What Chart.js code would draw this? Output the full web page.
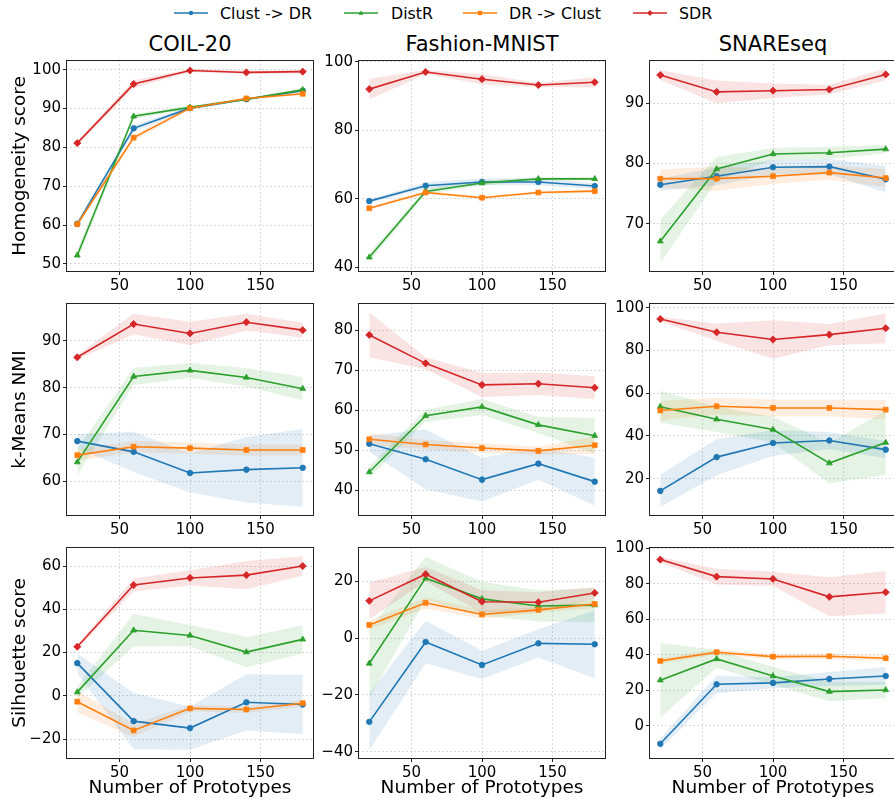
<!DOCTYPE html>
<html><head><meta charset="utf-8">
<script src="https://cdn.jsdelivr.net/npm/chart.js@4/dist/chart.umd.min.js"></script>
<style>
html,body{margin:0;padding:0;width:894px;height:799px;overflow:hidden;background:#fff;font-family:"DejaVu Sans",sans-serif;}
body{position:relative;}
canvas{position:absolute;}
.title{position:absolute;font-size:21px;transform:translate(-50%,-50%);white-space:nowrap;color:#000;line-height:1;}
.legtxt{position:absolute;font-size:15.8px;transform:translateY(-50%);white-space:nowrap;color:#000;line-height:1;}
svg.legicon{position:absolute;overflow:visible;}
</style></head>
<body>
<div id="legend"></div>
<div id="titles"></div>
<div id="charts"></div>
<script>
// ---------------- DATA ----------------
const prototypes = [20, 60, 100, 140, 180];
const methods = ['Clust -> DR', 'DistR', 'DR -> Clust', 'SDR'];
const datasetNames = ['COIL-20', 'Fashion-MNIST', 'SNAREseq'];
const metricNames = ['Homogeneity score', 'k-Means NMI', 'Silhouette score'];
const xAxisTitle = 'Number of Prototypes';
const xTicks = [50, 100, 150];

// order in each panel: [Clust -> DR, DistR, DR -> Clust, SDR]
const homCOIL = [[60.3, 84.9, 90.1, 92.4, 94.6],[52.2, 88.0, 90.3, 92.4, 94.8],[60.2, 82.5, 90.1, 92.6, 93.8],[81.1, 96.3, 99.8, 99.3, 99.5]];
const homCOIL_sd = [[0.6, 0.8, 0.4, 0.3, 0.4],[1.5, 0.6, 0.4, 0.3, 0.4],[0.6, 0.8, 0.4, 0.3, 0.4],[0.5, 1.0, 0.4, 0.4, 0.4]];
const homCOIL_ticks = [50, 60, 70, 80, 90, 100];

const homFashion = [[59.3, 63.8, 64.9, 64.9, 63.7],[42.9, 62.1, 64.6, 65.8, 65.8],[57.2, 61.8, 60.3, 61.8, 62.2],[92.0, 97.0, 94.9, 93.2, 94.0]];
const homFashion_sd = [[0.5, 1.0, 1.0, 1.0, 0.8],[1.2, 0.8, 0.8, 0.5, 0.5],[0.5, 0.5, 0.4, 0.4, 0.4],[3.0, 0.6, 1.5, 0.6, 1.5]];
const homFashion_ticks = [40, 60, 80, 100];

const homSNARE = [[76.5, 77.9, 79.4, 79.5, 77.4],[67.1, 79.1, 81.6, 81.8, 82.4],[77.5, 77.5, 77.9, 78.5, 77.6],[94.7, 91.9, 92.1, 92.3, 94.8]];
const homSNARE_sd = [[1.0, 1.5, 1.2, 1.3, 2.2],[3.6, 2.0, 1.0, 1.0, 0.7],[1.5, 2.0, 1.3, 1.2, 1.5],[0.8, 1.9, 1.2, 0.8, 1.0]];
const homSNARE_ticks = [70, 80, 90];

const nmiCOIL = [[68.6, 66.3, 61.8, 62.5, 62.9],[64.1, 82.4, 83.7, 82.2, 79.8],[65.6, 67.4, 67.1, 66.7, 66.7],[86.5, 93.6, 91.6, 94.0, 92.3]];
const nmiCOIL_sd = [[1.5, 4.3, 4.2, 7.0, 8.3],[2.8, 1.8, 1.6, 2.0, 2.5],[1.2, 1.2, 1.2, 1.2, 1.2],[0.5, 2.2, 2.5, 1.8, 1.6]];
const nmiCOIL_ticks = [60, 70, 80, 90];

const nmiFashion = [[51.6, 47.7, 42.6, 46.6, 42.1],[44.5, 58.6, 60.8, 56.3, 53.6],[52.7, 51.4, 50.5, 49.8, 51.2],[78.8, 71.7, 66.3, 66.6, 65.6]];
const nmiFashion_sd = [[2.0, 7.5, 5.5, 4.0, 6.0],[1.5, 1.5, 2.0, 2.0, 4.5],[1.5, 1.2, 1.2, 1.0, 2.2],[5.6, 1.5, 3.0, 2.8, 2.9]];
const nmiFashion_ticks = [40, 50, 60, 70, 80];

const nmiSNARE = [[14.3, 30.1, 36.7, 37.9, 33.6],[53.7, 47.8, 43.0, 27.3, 36.9],[51.9, 53.9, 53.1, 53.1, 52.3],[94.7, 88.5, 85.1, 87.4, 90.4]];
const nmiSNARE_sd = [[7.5, 8.5, 6.0, 4.0, 4.0],[7.5, 6.0, 6.0, 9.5, 15.0],[4.5, 4.0, 4.0, 4.0, 4.5],[1.2, 4.0, 9.0, 5.0, 7.0]];
const nmiSNARE_ticks = [20, 40, 60, 80, 100];

const silCOIL = [[15.1, -11.7, -14.9, -3.0, -4.0],[1.7, 30.3, 27.9, 20.2, 26.1],[-2.7, -16.0, -5.8, -6.3, -3.4],[22.7, 51.2, 54.5, 55.8, 60.0]];
const silCOIL_sd = [[4.5, 13.0, 10.0, 13.0, 13.7],[2.5, 7.5, 5.0, 7.0, 6.5],[5.0, 3.0, 1.5, 1.5, 1.5],[1.0, 3.0, 3.5, 6.5, 4.5]];
const silCOIL_ticks = [-20, 0, 20, 40, 60];

const silFashion = [[-29.5, -1.3, -9.4, -1.8, -2.1],[-8.9, 21.2, 13.9, 11.4, 11.7],[4.7, 12.5, 8.4, 10.0, 12.1],[13.2, 22.6, 12.9, 12.7, 16.0]];
const silFashion_sd = [[10.0, 7.5, 5.0, 5.0, 12.0],[12.0, 7.5, 6.0, 5.5, 6.0],[1.5, 2.0, 1.5, 1.0, 1.5],[6.5, 2.5, 4.0, 3.5, 2.0]];
const silFashion_ticks = [-40, -20, 0, 20];

const silSNARE = [[-10.2, 23.3, 24.1, 26.3, 28.0],[25.6, 37.6, 28.0, 19.2, 20.1],[36.5, 41.4, 38.9, 39.1, 38.0],[93.6, 84.0, 82.7, 72.6, 75.2]];
const silSNARE_sd = [[3.0, 5.0, 3.0, 4.0, 5.0],[21.0, 5.0, 5.0, 5.5, 4.5],[1.5, 1.5, 1.5, 1.5, 1.5],[1.5, 4.5, 4.0, 11.0, 12.0]];
const silSNARE_ticks = [0, 20, 40, 60, 80, 100];

// ---------------- STYLE / LAYOUT ----------------
const colors = ['#1f77b4', '#2ca02c', '#ff7f0e', '#d62728'];
const bandColors = ['rgba(31,119,180,0.13)', 'rgba(44,160,44,0.13)', 'rgba(255,127,14,0.13)', 'rgba(214,39,40,0.13)'];
const pointStyles = ['circle', 'triangle', 'rect', 'rectRot'];
const pointRadii = [2.8, 3.4, 3.4, 3.6];

const panels = [
  [{m: homCOIL, s: homCOIL_sd, t: homCOIL_ticks, min: 47.9, max: 102.5},
   {m: homFashion, s: homFashion_sd, t: homFashion_ticks, min: 38.6, max: 100.5},
   {m: homSNARE, s: homSNARE_sd, t: homSNARE_ticks, min: 62.0, max: 97.2}],
  [{m: nmiCOIL, s: nmiCOIL_sd, t: nmiCOIL_ticks, min: 52.6, max: 98.1},
   {m: nmiFashion, s: nmiFashion_sd, t: nmiFashion_ticks, min: 33.5, max: 86.8},
   {m: nmiSNARE, s: nmiSNARE_sd, t: nmiSNARE_ticks, min: 2.55, max: 102.2}],
  [{m: silCOIL, s: silCOIL_sd, t: silCOIL_ticks, min: -29.2, max: 68.8},
   {m: silFashion, s: silFashion_sd, t: silFashion_ticks, min: -42.6, max: 32.2},
   {m: silSNARE, s: silSNARE_sd, t: silSNARE_ticks, min: -18.8, max: 100.7}]
];

const colBox = [[66, 314], [358, 606], [649, 897]];
const rowBox = [[60, 272], [303, 516], [547, 759]];

Chart.defaults.font.family = '"DejaVu Sans", sans-serif';
Chart.defaults.color = '#000';

const framePlugin = {
  id: 'frame',
  afterDatasetsDraw(chart) {
    const {ctx, chartArea: a} = chart;
    ctx.save();
    ctx.strokeStyle = '#222';
    ctx.lineWidth = 1;
    ctx.strokeRect(Math.round(a.left) + 0.5, Math.round(a.top) + 0.5, Math.round(a.right - a.left) - 1, Math.round(a.bottom - a.top) - 1);
    ctx.restore();
  }
};

const fmt = v => v < 0 ? '\u2212' + Math.abs(v) : String(v);

// legend (HTML)
const legendPos = [[174, 208, 220], [344, 378, 391], [463, 497, 509], [633, 667, 679]];
const legendY = 13;
const legendDiv = document.getElementById('legend');
methods.forEach((name, i) => {
  const [x0, x1, tx] = legendPos[i];
  const w = x1 - x0, cx = w / 2;
  let marker = '';
  if (pointStyles[i] === 'circle') marker = `<circle cx="${cx}" cy="5" r="2.2" fill="${colors[i]}"/>`;
  else if (pointStyles[i] === 'triangle') marker = `<polygon points="${cx},2.5 ${cx-2.5},6.8 ${cx+2.5},6.8" fill="${colors[i]}"/>`;
  else if (pointStyles[i] === 'rect') marker = `<rect x="${cx-2.2}" y="2.8" width="4.4" height="4.4" fill="${colors[i]}"/>`;
  else marker = `<polygon points="${cx},2 ${cx+2.8},5 ${cx},8 ${cx-2.8},5" fill="${colors[i]}"/>`;
  legendDiv.insertAdjacentHTML('beforeend',
    `<svg class="legicon" style="left:${x0}px;top:${legendY-5}px" width="${w}" height="10"><line x1="0" y1="5" x2="${w}" y2="5" stroke="${colors[i]}" stroke-width="1.6"/>${marker}</svg>` +
    `<div class="legtxt" style="left:${tx}px;top:${legendY+1}px">${name.replace('>', '&gt;')}</div>`);
});

// column titles
const titlesDiv = document.getElementById('titles');
datasetNames.forEach((n, c) => {
  const cx = (colBox[c][0] + colBox[c][1]) / 2;
  titlesDiv.insertAdjacentHTML('beforeend', `<div class="title" style="left:${cx}px;top:44px">${n}</div>`);
});

// charts
const chartsDiv = document.getElementById('charts');
for (let r = 0; r < 3; r++) {
  for (let c = 0; c < 3; c++) {
    const p = panels[r][c];
    const [L, R] = colBox[c];
    const [T, B] = rowBox[r];
    const LW = c === 0 ? 66 : 48;
    const PT = 14, PR = 10;
    const BH = r === 2 ? 40 : 26;
    const cv = document.createElement('canvas');
    const cw = (R - L) + LW + PR, ch = (B - T) + PT + BH;
    cv.width = cw; cv.height = ch;
    cv.style.left = (L - LW) + 'px';
    cv.style.top = (T - PT) + 'px';
    cv.style.width = cw + 'px';
    cv.style.height = ch + 'px';
    chartsDiv.appendChild(cv);

    const ds = [];
    for (let i = 0; i < 4; i++) {
      const mean = p.m[i], sd = p.s[i];
      ds.push({
        data: prototypes.map((x, j) => ({x, y: mean[j] - sd[j]})),
        borderWidth: 0, pointRadius: 0, fill: false, order: 30 + i, tension: 0
      });
      ds.push({
        data: prototypes.map((x, j) => ({x, y: mean[j] + sd[j]})),
        borderWidth: 0, pointRadius: 0, fill: '-1', backgroundColor: bandColors[i], order: 30 + i, tension: 0
      });
    }
    for (let i = 0; i < 4; i++) {
      ds.push({
        label: methods[i],
        data: prototypes.map((x, j) => ({x, y: p.m[i][j]})),
        borderColor: colors[i], backgroundColor: colors[i],
        pointBackgroundColor: colors[i], pointBorderColor: colors[i],
        borderWidth: 1.6, pointStyle: pointStyles[i], pointRadius: pointRadii[i], pointBorderWidth: 0.8,
        fill: false, tension: 0, order: 10 - i
      });
    }
    const yTicks = p.t;
    new Chart(cv, {
      type: 'line',
      data: {datasets: ds},
      options: {
        responsive: false, animation: false, devicePixelRatio: 1, events: [],
        layout: {padding: {top: PT, right: PR, left: 0, bottom: 0}},
        plugins: {legend: {display: false}, tooltip: {enabled: false}},
        scales: {
          x: {
            type: 'linear', min: 12, max: 188,
            afterBuildTicks: s => { s.ticks = xTicks.map(v => ({value: v})); },
            afterFit: s => { s.height = BH; },
            ticks: {font: {size: 15}, color: '#000', padding: 2, maxRotation: 0, autoSkip: false},
            grid: {color: 'rgba(176,176,176,0.6)', lineWidth: 0.8, drawTicks: true, tickLength: 3, tickColor: '#222', tickWidth: 1, tickBorderDash: []},
            border: {display: false, dash: [2, 2]},
            title: {display: r === 2, text: xAxisTitle, font: {size: 18.5}, color: '#000', padding: {top: 0, bottom: 0}}
          },
          y: {
            type: 'linear', min: p.min, max: p.max,
            afterBuildTicks: s => { s.ticks = yTicks.map(v => ({value: v})); },
            afterFit: s => { s.width = LW; },
            ticks: {font: {size: 15}, color: '#000', padding: 2, autoSkip: false, callback: v => fmt(v)},
            grid: {color: 'rgba(176,176,176,0.6)', lineWidth: 0.8, drawTicks: true, tickLength: 3, tickColor: '#222', tickWidth: 1, tickBorderDash: []},
            border: {display: false, dash: [2, 2]},
            title: {display: c === 0, text: metricNames[r], font: {size: 18.5}, color: '#000', padding: {top: 9, bottom: 0}}
          }
        }
      },
      plugins: [framePlugin]
    });
  }
}
</script>
</body></html>
